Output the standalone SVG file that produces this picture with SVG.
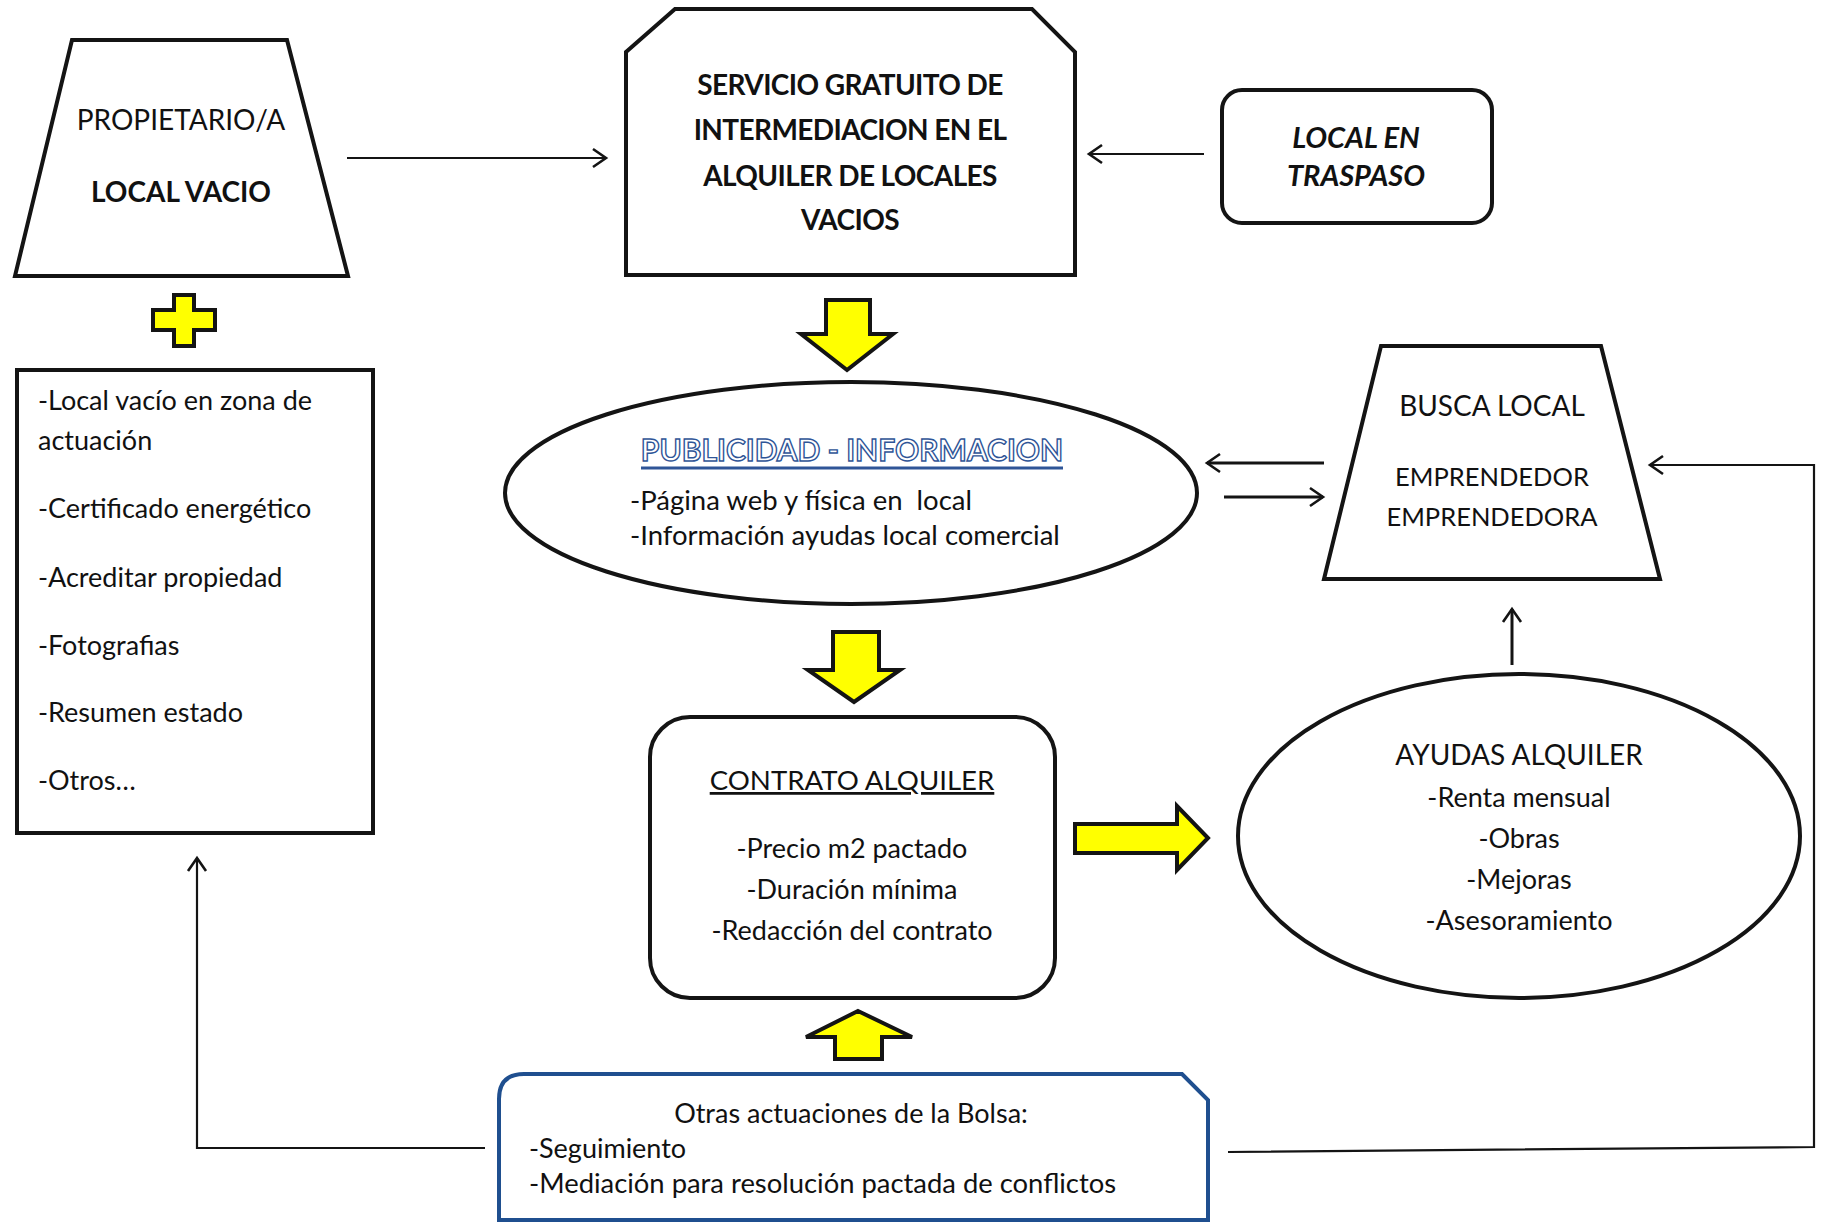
<svg xmlns="http://www.w3.org/2000/svg" width="1826" height="1223" viewBox="0 0 1826 1223">
<style>
  .shape { fill: #ffffff; stroke: #141414; stroke-width: 4; stroke-linejoin: miter; }
  .blue { fill: #ffffff; stroke: #1f4f8f; stroke-width: 4; }
  .yel { fill: #ffff00; stroke: #141414; stroke-width: 4; stroke-linejoin: miter; }
  .conn { fill: none; stroke: #141414; stroke-width: 2.2; }
  .t { font-family: Lato, "Liberation Sans", sans-serif; font-size: 27px; fill: #111111; white-space: pre; }
  .h { font-family: Lato, "Liberation Sans", sans-serif; font-size: 28px; fill: #111111; }
  .b { font-weight: bold; }
  .c { text-anchor: middle; }
</style>
<defs>
  <marker id="arr" markerUnits="userSpaceOnUse" markerWidth="20" markerHeight="24" refX="16" refY="12" orient="auto">
    <path d="M3,3 L16,12 L3,21" fill="none" stroke="#141414" stroke-width="2.6"/>
  </marker>
</defs>

<g id="propietario">
  <path class="shape" d="M72,40 L287,40 L348,276 L15,276 Z"/>
  <text class="h c" x="181" y="130">PROPIETARIO/A</text>
  <text class="h c b" x="181" y="202">LOCAL VACIO</text>
</g>

<g id="plus">
  <path class="yel" d="M174,295 L194,295 L194,310 L215,310 L215,330 L194,330 L194,346 L174,346 L174,330 L153,330 L153,310 L174,310 Z"/>
</g>

<g id="requisitos">
  <rect class="shape" x="17" y="370" width="356" height="463"/>
  <text class="t" x="38" y="410">-Local vacío en zona de</text>
  <text class="t" x="38" y="450">actuación</text>
  <text class="t" x="38" y="518">-Certificado energético</text>
  <text class="t" x="38" y="587">-Acreditar propiedad</text>
  <text class="t" x="38" y="655">-Fotografias</text>
  <text class="t" x="38" y="722">-Resumen estado</text>
  <text class="t" x="38" y="790">-Otros…</text>
</g>

<g id="servicio">
  <path class="shape" d="M626,52 L675,9 L1032,9 L1075,52 L1075,275 L626,275 Z"/>
  <text class="h c b" x="850" y="95" letter-spacing="-0.6">SERVICIO GRATUITO DE</text>
  <text class="h c b" x="850" y="140" letter-spacing="-0.6">INTERMEDIACION EN EL</text>
  <text class="h c b" x="850" y="186" letter-spacing="-0.6">ALQUILER DE LOCALES</text>
  <text class="h c b" x="850" y="230" letter-spacing="-0.6">VACIOS</text>
</g>

<g id="traspaso">
  <rect class="shape" x="1222" y="90" width="270" height="133" rx="20"/>
  <text class="h c b" style="font-size:29px;font-style:italic" x="1356" y="148">LOCAL EN</text>
  <text class="h c b" style="font-size:29px;font-style:italic" x="1356" y="186">TRASPASO</text>
</g>

<g id="flecha-servicio">
  <path class="yel" d="M826,300 L870,300 L870,334 L893,334 L847,370 L801,334 L826,334 Z"/>
</g>

<g id="publicidad">
  <ellipse class="shape" cx="851" cy="493" rx="346" ry="111"/>
  <text class="h c b" x="852" y="461" stroke="#2f5597" stroke-width="1.4" style="fill:#ffffff;font-size:30px">PUBLICIDAD - INFORMACION</text>
  <line x1="641" y1="468" x2="1063" y2="468" stroke="#2f5597" stroke-width="3"/>
  <text class="t" x="630" y="510" style="font-size:27.5px">-Página web y física en  local</text>
  <text class="t" x="630" y="545" style="font-size:27.5px">-Información ayudas local comercial</text>
</g>

<g id="busca">
  <path class="shape" d="M1381,346 L1601,346 L1660,579 L1324,579 Z"/>
  <text class="h c" x="1492" y="416">BUSCA LOCAL</text>
  <text class="t c" x="1492" y="486" style="font-size:25.5px">EMPRENDEDOR</text>
  <text class="t c" x="1492" y="526" style="font-size:25.5px">EMPRENDEDORA</text>
</g>

<g id="flecha-publicidad">
  <path class="yel" d="M833,632 L879,632 L879,670 L900,670 L854,702 L808,670 L833,670 Z"/>
</g>

<g id="contrato">
  <rect class="shape" x="650" y="717" width="405" height="281" rx="40"/>
  <text class="h c" x="852" y="790" style="font-size:27.6px" text-decoration="underline">CONTRATO ALQUILER</text>
  <text class="t c" x="852" y="858">-Precio m2 pactado</text>
  <text class="t c" x="852" y="899">-Duración mínima</text>
  <text class="t c" x="852" y="940">-Redacción del contrato</text>
</g>

<g id="flecha-ayudas">
  <path class="yel" d="M1075,824 L1177,824 L1177,806 L1208,838 L1177,870 L1177,853 L1075,853 Z"/>
</g>

<g id="ayudas">
  <ellipse class="shape" cx="1519" cy="836" rx="281" ry="162"/>
  <text class="h c" x="1519" y="765">AYUDAS ALQUILER</text>
  <text class="t c" x="1519" y="807">-Renta mensual</text>
  <text class="t c" x="1519" y="848">-Obras</text>
  <text class="t c" x="1519" y="889">-Mejoras</text>
  <text class="t c" x="1519" y="930">-Asesoramiento</text>
</g>

<g id="flecha-otras">
  <path class="yel" d="M858,1011 L912,1037 L882,1037 L882,1059 L835,1059 L835,1037 L806,1037 Z"/>
</g>

<g id="otras">
  <path class="blue" d="M499,1220 L499,1099 Q499,1074 524,1074 L1182,1074 L1208,1100 L1208,1220 Z"/>
  <text class="t c" x="851" y="1123">Otras actuaciones de la Bolsa:</text>
  <text class="t" x="529" y="1158">-Seguimiento</text>
  <text class="t" x="529" y="1193" style="font-size:27.4px">-Mediación para resolución pactada de conflictos</text>
</g>

<g id="connectors">
  <line class="conn" x1="347" y1="158" x2="606" y2="158" marker-end="url(#arr)"/>
  <line class="conn" x1="1204" y1="154" x2="1089" y2="154" marker-end="url(#arr)"/>
  <line class="conn" x1="1324" y1="463" x2="1207" y2="463" style="stroke-width:3px" marker-end="url(#arr)"/>
  <line class="conn" x1="1224" y1="497" x2="1323" y2="497" style="stroke-width:3px" marker-end="url(#arr)"/>
  <line class="conn" x1="1512" y1="665" x2="1512" y2="609" style="stroke-width:3px" marker-end="url(#arr)"/>
  <polyline class="conn" points="485,1148 197,1148 197,858" marker-end="url(#arr)"/>
  <polyline class="conn" points="1228,1152 1814,1147 1814,465 1650,465" marker-end="url(#arr)"/>
</g>
</svg>
